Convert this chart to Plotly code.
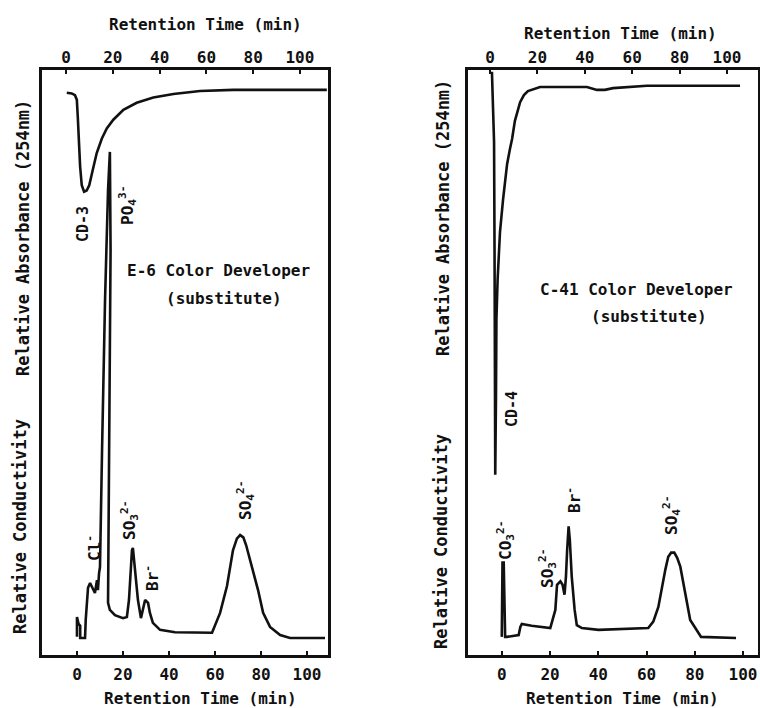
import plotly.graph_objects as go

W, H = 760, 708

# ---------------- data ----------------
tick_values = [0, 20, 40, 60, 80, 100]
tick_labels = ["0", "20", "40", "60", "80", "100"]

# E-6 panel, UV absorbance (top time axis)
e6_abs_time = [0.3, 2.4, 3.8, 4.6, 5.0, 5.4, 6.0, 6.7, 7.7, 8.8, 9.9, 11.4, 13.1,
               15.3, 17.4, 20.2, 24.5, 30.2, 37.3, 45.9, 57.3, 71.5, 111.5]
e6_abs_signal = [96.1, 96.0, 95.7, 94.9, 92.0, 88.0, 83.5, 80.3, 79.2, 79.4, 80.3, 82.9, 85.8,
                 88.3, 90.0, 91.5, 93.2, 94.4, 95.3, 95.9, 96.4, 96.6, 96.6]

# E-6 panel, conductivity (bottom time axis)
e6_cond_time = [0.0, 0.0, 0.7, 1.4, 1.4, 2.6, 3.5, 3.8, 4.3, 4.8, 5.7, 7.0, 7.8, 8.7, 9.1,
                9.6, 10.0, 10.9, 12.2, 13.5, 14.3, 14.6, 14.1, 13.5, 13.5, 14.3, 16.5,
                20.0, 21.7, 22.6, 23.9, 24.3, 25.2, 26.5, 27.8, 28.7, 29.6, 30.9, 31.7,
                33.0, 36.1, 42.6, 53.5, 58.7, 62.2, 65.2, 67.8, 69.5, 70.9, 72.3, 73.5,
                76.1, 78.7, 80.9, 83.9, 88.3, 92.6, 107.8]
e6_cond_signal = [3.1, 6.5, 5.3, 5.0, 2.9, 2.9, 2.9, 6.0, 9.4, 11.5, 12.3, 11.1, 10.6, 12.8, 11.1,
                  14.0, 15.0, 35.0, 60.7, 79.5, 86.0, 69.2, 43.6, 23.1, 8.9, 7.7, 6.8,
                  6.3, 6.5, 9.4, 17.9, 18.3, 15.0, 9.4, 6.3, 7.7, 9.4, 8.9, 7.2,
                  5.5, 4.3, 3.9, 3.8, 3.8, 7.2, 11.8, 17.9, 19.9, 20.5, 20.1, 18.8,
                  15.0, 11.1, 7.2, 4.8, 3.4, 2.9, 2.9]

# C-41 panel, UV absorbance (top time axis)
c41_abs_time = [0.8, 1.3, 1.7, 1.9, 2.1, 2.2, 2.5, 2.7, 3.2, 4.2, 5.5, 6.3, 7.2, 8.4, 9.3,
                10.5, 12.7, 14.3, 16.0, 21.1, 30.8, 40.9, 45.1, 48.5, 51.9, 66.2, 105.5]
c41_abs_signal = [99.7, 94.5, 87.7, 69.3, 43.7, 30.8, 43.7, 57.4, 64.2, 72.3, 77.9, 81.3, 83.9,
                  86.5, 88.2, 91.3, 94.5, 95.7, 96.4, 97.1, 97.1, 97.1, 96.6, 96.6, 96.9,
                  97.3, 97.3]

# C-41 panel, conductivity (bottom time axis)
c41_cond_time = [0.0, 0.3, 0.8, 1.4, 2.1, 7.0, 7.7, 8.3, 12.4, 20.1, 22.2, 22.9, 24.3, 25.2,
                 26.0, 26.6, 27.1, 27.7, 28.2, 29.0, 30.2, 31.1, 33.2, 40.1, 60.7, 62.8,
                 64.9, 66.1, 67.8, 69.0, 70.2, 71.5, 72.7, 74.0, 76.0, 78.1, 82.6, 97.1]
c41_cond_signal = [3.1, 15.8, 15.8, 3.1, 3.1, 3.4, 4.8, 5.3, 5.0, 4.6, 7.7, 12.0, 12.6, 12.0,
                   10.3, 13.4, 18.0, 22.0, 19.7, 13.4, 7.7, 5.1, 4.6, 4.3, 4.6, 5.7,
                   8.2, 11.1, 14.6, 16.8, 17.5, 17.5, 16.6, 15.1, 10.6, 6.0, 3.1, 2.9]

# ---------------- layout helpers ----------------
def px(x):
    return x / W

def py(y):
    return 1 - y / H

FONT = "DejaVu Sans Mono"
INK = "#111111"
LW = 2.6
WEIGHT = "bold"

y_dom = [py(655), py(70)]
left_dom = [px(42), px(328)]
right_dom = [px(468), px(758)]

fig = go.Figure()

fig.add_trace(go.Scatter(x=e6_cond_time, y=e6_cond_signal, mode="lines",
                         line=dict(color=INK, width=LW), xaxis="x", yaxis="y",
                         showlegend=False, hoverinfo="skip"))
fig.add_trace(go.Scatter(x=e6_abs_time, y=e6_abs_signal, mode="lines",
                         line=dict(color=INK, width=LW), xaxis="x2", yaxis="y2",
                         showlegend=False, hoverinfo="skip"))
fig.add_trace(go.Scatter(x=c41_cond_time, y=c41_cond_signal, mode="lines",
                         line=dict(color=INK, width=LW), xaxis="x3", yaxis="y3",
                         showlegend=False, hoverinfo="skip"))
fig.add_trace(go.Scatter(x=c41_abs_time, y=c41_abs_signal, mode="lines",
                         line=dict(color=INK, width=LW), xaxis="x4", yaxis="y4",
                         showlegend=False, hoverinfo="skip"))

tickfont = dict(family=FONT, size=16, color=INK, weight=WEIGHT)

def bottom_axis(dom, rng, anchor):
    return dict(domain=dom, range=rng, anchor=anchor, showline=True, mirror=True,
                linecolor=INK, linewidth=2.6, ticks="inside", ticklen=4, tickwidth=2,
                tickcolor=INK, tickvals=tick_values, ticktext=tick_labels,
                tickfont=tickfont, showgrid=False, zeroline=False,
                ticklabelstandoff=3, fixedrange=True)

def top_axis(over, rng, anchor):
    return dict(overlaying=over, side="top", range=rng, anchor=anchor, showline=False,
                ticks="inside", ticklen=4, tickwidth=2, tickcolor=INK,
                tickvals=tick_values, ticktext=tick_labels, tickfont=tickfont,
                showgrid=False, zeroline=False, ticklabelstandoff=3, fixedrange=True)

def y_axis(dom, anchor, over=None):
    d = dict(range=[0, 100], anchor=anchor, showticklabels=False, ticks="",
             showgrid=False, zeroline=False, fixedrange=True)
    if over is None:
        d.update(domain=dom, showline=True, mirror=True, linecolor=INK, linewidth=2.6)
    else:
        d.update(overlaying=over, showline=False)
    return d

fig.update_layout(
    width=W, height=H, autosize=False,
    margin=dict(l=0, r=0, t=0, b=0),
    paper_bgcolor="white", plot_bgcolor="white",
    xaxis=bottom_axis(left_dom, [-15.2, 109.1], "y"),
    xaxis2=top_axis("x", [-10.3, 112.0], "y"),
    yaxis=y_axis(y_dom, "x"),
    yaxis2=y_axis(y_dom, "x", over="y"),
    xaxis3=bottom_axis(right_dom, [-14.0, 106.2], "y3"),
    xaxis4=top_axis("x3", [-9.3, 113.1], "y3"),
    yaxis3=y_axis(y_dom, "x3"),
    yaxis4=y_axis(y_dom, "x3", over="y3"),
)

annots = []

def note(text, x, y, size=16, angle=0):
    annots.append(dict(text=text, x=px(x), y=py(y), xref="paper", yref="paper",
                       showarrow=False, textangle=angle, xanchor="center",
                       yanchor="middle",
                       font=dict(family=FONT, size=size, color=INK, weight=WEIGHT)))

# axis titles
note("Retention Time (min)", 205, 25, 16)
note("Retention Time (min)", 200, 698, 16)
note("Retention Time (min)", 620, 34, 16)
note("Retention Time (min)", 622, 698, 16)
note("Relative Absorbance (254nm)", 23, 238, 17, -90)
note("Relative Conductivity", 20, 527, 17, -90)
note("Relative Absorbance (254nm)", 443, 218, 17, -90)
note("Relative Conductivity", 441, 542, 17, -90)

# panel captions
note("E-6 Color Developer", 218, 270, 16)
note("(substitute)", 224, 298, 16)
note("C-41 Color Developer", 636, 290, 16)
note("(substitute)", 649, 316, 16)

# peak labels (E-6)
note("CD-3", 83, 224, 15, -90)
note("PO<sub>4</sub><sup>3-</sup>", 128, 205, 16, -90)
note("Cl<sup>-</sup>", 93, 548, 16, -90)
note("SO<sub>3</sub><sup>2-</sup>", 129, 520, 16, -90)
note("Br<sup>-</sup>", 151, 578, 16, -90)
note("SO<sub>4</sub><sup>2-</sup>", 245, 500, 16, -90)

# peak labels (C-41)
note("CD-4", 512, 409, 15, -90)
note("CO<sub>3</sub><sup>2-</sup>", 505, 540, 16, -90)
note("SO<sub>3</sub><sup>2-</sup>", 547, 568, 16, -90)
note("Br<sup>-</sup>", 573, 500, 16, -90)
note("SO<sub>4</sub><sup>2-</sup>", 671, 515, 16, -90)

fig.update_layout(annotations=annots)

fig.write_html("out.html",
               config={"displayModeBar": False, "staticPlot": True},
               post_script="document.body.style.margin='0';"
                           "document.body.style.overflow='hidden';")
